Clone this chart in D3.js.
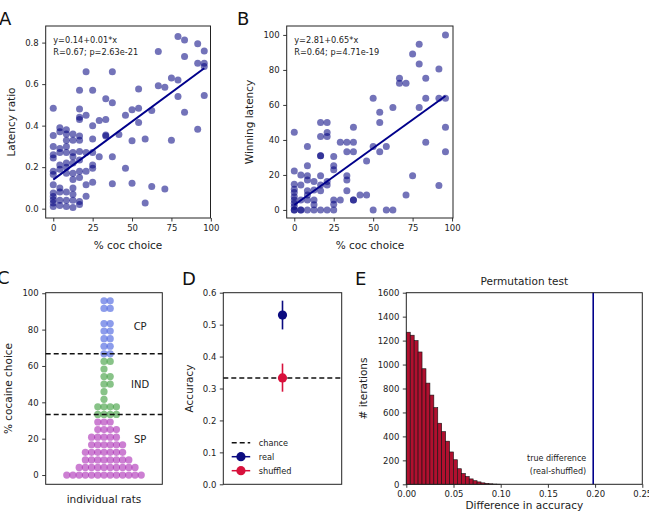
<!DOCTYPE html>
<html>
<head>
<meta charset="utf-8">
<script src="https://cdn.jsdelivr.net/npm/d3@7"></script>
<style>
  body { margin: 0; background: #fff; }
  svg { font-family: "DejaVu Sans", sans-serif; }
</style>
</head>
<body>
<div id="canvas"></div>
<script>
// ---- data ----
// A: % coc choice vs latency ratio
var ratioPoints = [
  [0,0.484],[0,0.353],[0,0.30],[0,0.26],[0,0.244],[0,0.18],[0,0.164],[0,0.115],[0,0.075],[0,0.059],[0,0.043],[0,0.027],[0,0.011],
  [4.17,0.39],[4.17,0.37],[4.17,0.29],[4.17,0.27],[4.17,0.21],[4.17,0.19],[4.17,0.10],[4.17,0.08],[4.17,0.04],[4.17,0.015],
  [8.33,0.38],[8.33,0.36],[8.33,0.33],[8.33,0.30],[8.33,0.27],[8.33,0.22],[8.33,0.20],[8.33,0.17],[8.33,0.08],[8.33,0.04],[8.33,0.01],
  [12.5,0.36],[12.5,0.33],[12.5,0.27],[12.5,0.25],[12.5,0.22],[12.5,0.17],[12.5,0.14],[12.5,0.10],[12.5,0.07],[12.5,0.04],[12.5,0.005],
  [16.67,0.57],[16.67,0.48],[16.67,0.44],[16.67,0.43],[16.67,0.35],[16.67,0.33],[16.67,0.275],[16.67,0.235],[16.67,0.18],[16.67,0.15],[16.67,0.035],[16.67,0.02],
  [20.83,0.66],[20.83,0.45],[20.83,0.27],[20.83,0.18],[20.83,0.115],[20.83,0.06],
  [25,0.57],[25,0.40],[25,0.335],[25,0.27],[25,0.21],[25,0.195],[25,0.127],
  [29.17,0.425],[29.17,0.25],
  [33.33,0.53],[33.33,0.43],[33.33,0.355],[33.33,0.35],
  [37.5,0.66],[37.5,0.51],[37.5,0.25],[37.5,0.12],
  [41.67,0.357],[45.83,0.45],[45.83,0.195],
  [50,0.476],[50,0.327],[50,0.123],
  [54.17,0.576],[54.17,0.484],[54.17,0.415],
  [58.33,0.335],[58.33,0.027],[62.5,0.473],[62.5,0.107],
  [66.67,0.757],[66.67,0.592],[70.83,0.585],[70.83,0.095],
  [75,0.63],[75,0.329],[79.17,0.829],[79.17,0.62],[79.17,0.54],
  [83.33,0.813],[83.33,0.733],[83.33,0.465],
  [91.67,0.794],[91.67,0.70],[91.67,0.383],
  [95.83,0.76],[95.83,0.70],[95.83,0.685],[95.83,0.545]
];
var ratioFit = [0.14, 0.0056];
var ratioText = ["y=0.14+0.01*x", "R=0.67; p=2.63e-21"];

// B: % coc choice vs winning latency
var winPoints = [
  [0,44.4],[0,22.3],[0,14.7],[0,11.8],[0,9.9],[0,7.6],[0,5.7],[0,3.8],[0,1.9],[0,0],[0,0],
  [4.17,20],[4.17,14.3],[4.17,5.7],[4.17,0],[4.17,0],
  [8.33,36.2],[8.33,25.3],[8.33,19.6],[8.33,17.1],[8.33,11],[8.33,8.6],[8.33,5.7],[8.33,0],
  [12.5,16.2],[12.5,11.4],[12.5,5.7],[12.5,2.9],[12.5,0],
  [16.67,50],[16.67,41.9],[16.67,30.9],[16.67,30.9],[16.67,19.6],[16.67,14.3],[16.67,11],[16.67,0],
  [20.83,50],[20.83,44.2],[20.83,41.9],[20.83,16.2],[20.83,14.3],[20.83,0],
  [25,30.5],[25,25.3],[25,22.9],[25,5.7],[25,3.2],[25,0],
  [29.17,38.7],[29.17,5.7],
  [33.33,38.7],[33.33,33.3],[33.33,19.6],[33.33,17.1],[33.33,11],
  [37.5,47.2],[37.5,38.7],[37.5,33.3],[37.5,5.7],[37.5,5.7],
  [41.67,8.6],[45.83,28],[45.83,8.6],
  [50,63.8],[50,36.2],[50,0],
  [54.17,55.8],[54.17,50],[54.17,33.3],
  [58.33,36.2],[58.33,0],[62.5,58.5],[62.5,0],
  [66.67,75.2],[66.67,72.4],[70.83,72.4],[70.83,8.6],
  [75,89.1],[75,19.6],[79.17,94.7],[79.17,83.4],[79.17,58.5],
  [83.33,75.2],[83.33,63.8],[83.33,38.7],
  [91.67,80.6],[91.67,63.8],[91.67,13.9],
  [95.83,100],[95.83,63.8],[95.83,47.2],[95.83,33.3]
];
var winFit = [2.81, 0.65];
var winText = ["y=2.81+0.65*x", "R=0.64; p=4.71e-19"];

// C: % cocaine choice per rat
var choiceSP = [0,0,0,0,0,0,0,0,0,0,0,0,0,
  4.17,4.17,4.17,4.17,4.17,4.17,4.17,4.17,4.17,4.17,
  8.33,8.33,8.33,8.33,8.33,8.33,8.33,8.33,
  12.5,12.5,12.5,12.5,12.5,12.5,12.5,
  16.67,16.67,16.67,16.67,16.67,16.67,
  20.83,20.83,20.83,20.83,20.83,
  25,25,25,25, 29.17,29.17,29.17];
var choiceIND = [33.33,33.33,33.33,33.33, 37.5,37.5,37.5,37.5, 41.67, 45.83, 50,50, 54.17,54.17, 58.33, 62.5,62.5];
var choiceCP = [66.67,66.67, 70.83,70.83, 75,75, 79.17,79.17, 83.33,83.33, 91.67,91.67, 95.83,95.83];
var groupCuts = [33.33, 66.67];
var groupLabels = [["CP", 82], ["IND", 50], ["SP", 20]];

// D: decoding accuracy
var accuracyNames = ["real", "shuffled"];
var accuracyMean = [0.53, 0.333];
var accuracyLow = [0.485, 0.29];
var accuracyHigh = [0.575, 0.378];
var chanceLevel = 0.333;

// E: permutation test histogram
var permCounts = [1270,1245,1200,1105,965,845,745,640,510,440,360,270,205,130,90,65,45,30,20,12,8,4,2,1];
var permBinWidth = 1 / 240;
var trueDifference = 0.198;

// ---- drawing ----
var svg = d3.select("#canvas").append("svg").attr("width", 649).attr("height", 519);

var INK = "#222";
var TICK_FONT = 8.5;
var LABEL_FONT = 10.5;

function styleAxis(g) {
  g.attr("font-family", "DejaVu Sans").attr("font-size", TICK_FONT);
  g.select(".domain").remove();
  g.selectAll(".tick line").attr("stroke", INK).attr("stroke-width", 0.9);
  g.selectAll(".tick text").attr("fill", INK);
}

function addFrame(x, y) {
  var xr = x.range(), yr = y.range();
  svg.append("rect")
    .attr("x", xr[0]).attr("y", yr[1])
    .attr("width", xr[1] - xr[0]).attr("height", yr[0] - yr[1])
    .attr("fill", "none").attr("stroke", INK).attr("stroke-width", 1);
}

function addYLabel(text, x, cy) {
  svg.append("text")
    .attr("transform", "translate(" + x + "," + cy + ") rotate(-90)")
    .attr("text-anchor", "middle").attr("font-size", LABEL_FONT).attr("fill", INK)
    .text(text);
}

function addXLabel(text, cx, y) {
  svg.append("text").attr("x", cx).attr("y", y)
    .attr("text-anchor", "middle").attr("font-size", LABEL_FONT).attr("fill", INK)
    .text(text);
}

function addLetter(letter, x, y) {
  svg.append("text").attr("x", x).attr("y", y).attr("font-size", 18).attr("fill", "#111").text(letter);
}

function xAxisAt(x, y, ticks, fmt) {
  var g = svg.append("g").attr("transform", "translate(0," + y.range()[0] + ")")
    .call(d3.axisBottom(x).tickValues(ticks).tickFormat(fmt).tickSize(3.5).tickPadding(3.5));
  styleAxis(g);
}

function yAxisAt(x, y, ticks, fmt) {
  var g = svg.append("g").attr("transform", "translate(" + x.range()[0] + ",0)")
    .call(d3.axisLeft(y).tickValues(ticks).tickFormat(fmt).tickSize(3.5).tickPadding(3.5));
  styleAxis(g);
}

// scatter panel with regression line
function drawScatter(points, fit, lines, x, y, yTicks, yFmt) {
  addFrame(x, y);
  svg.append("g").selectAll("circle")
    .data(points).enter().append("circle")
    .attr("cx", d => x(d[0])).attr("cy", d => y(d[1])).attr("r", 3.5)
    .attr("fill", "navy").attr("fill-opacity", 0.55);
  var xs = d3.extent(points, d => d[0]);
  svg.append("line")
    .attr("x1", x(xs[0])).attr("y1", y(fit[0] + fit[1] * xs[0]))
    .attr("x2", x(xs[1])).attr("y2", y(fit[0] + fit[1] * xs[1]))
    .attr("stroke", "#00008b").attr("stroke-width", 2);
  xAxisAt(x, y, [0, 25, 50, 75, 100], d3.format("d"));
  yAxisAt(x, y, yTicks, yFmt);
  svg.append("g").selectAll("text").data(lines).enter().append("text")
    .attr("x", x(0)).attr("y", (d, i) => y.range()[1] + 17 + i * 12)
    .attr("font-size", 8.2).attr("fill", INK).text(d => d);
}

// Panel A
var xA = d3.scaleLinear().domain([-4.8, 99.8]).range([45.7, 210.5]);
var yA = d3.scaleLinear().domain([-0.045, 0.88]).range([218, 26]);
drawScatter(ratioPoints, ratioFit, ratioText, xA, yA, [0, 0.2, 0.4, 0.6, 0.8], d3.format(".1f"));
addYLabel("Latency ratio", 14.5, 122);
addXLabel("% coc choice", 128, 248.5);
addLetter("A", -1, 25);

// Panel B
var xB = d3.scaleLinear().domain([-4.8, 100.6]).range([286.7, 453]);
var yB = d3.scaleLinear().domain([-4.6, 105.1]).range([218, 26]);
drawScatter(winPoints, winFit, winText, xB, yB, [0, 20, 40, 60, 80, 100], d3.format("d"));
addYLabel("Winning latency", 253, 122);
addXLabel("% coc choice", 370, 248.5);
addLetter("B", 237, 25);

// Panel C: beeswarm of individual rats
var xC = d3.scaleLinear().domain([-1, 1]).range([45.7, 162.3]);
var yC = d3.scaleLinear().domain([-5.1, 100.3]).range([484.3, 292.7]);
addFrame(xC, yC);

function swarm(values, spacing) {
  var placed = [];
  values.slice().sort((a, b) => a - b).forEach(v => {
    var py = yC(v);
    var cands = [0];
    placed.forEach(q => {
      var dy = Math.abs(q.y - py);
      if (dy < spacing) {
        var dx = Math.sqrt(spacing * spacing - dy * dy) + 0.01;
        cands.push(q.dx + dx, q.dx - dx);
      }
    });
    cands.sort((a, b) => Math.abs(a) - Math.abs(b));
    var dx = cands.find(c => placed.every(q => (q.dx - c) * (q.dx - c) + (q.y - py) * (q.y - py) >= spacing * spacing - 0.001));
    placed.push({ v: v, y: py, dx: dx });
  });
  return placed;
}

var groups = [
  { values: choiceSP, color: "#9a00a6" },
  { values: choiceIND, color: "#118811" },
  { values: choiceCP, color: "#1a3ad8" }
];
var allChoice = choiceSP.concat(choiceIND, choiceCP);
var swarmPts = swarm(allChoice, 6.2);
function groupColor(v) {
  if (v >= groupCuts[1]) return groups[2].color;
  if (v >= groupCuts[0]) return groups[1].color;
  return groups[0].color;
}
svg.append("g").selectAll("circle").data(swarmPts).enter().append("circle")
  .attr("cx", d => xC(0) + d.dx).attr("cy", d => d.y).attr("r", 3.6)
  .attr("fill", d => groupColor(d.v)).attr("fill-opacity", 0.5);

svg.append("g").selectAll("line").data(groupCuts).enter().append("line")
  .attr("x1", xC.range()[0]).attr("x2", xC.range()[1])
  .attr("y1", d => yC(d)).attr("y2", d => yC(d))
  .attr("stroke", "#111").attr("stroke-width", 1.5).attr("stroke-dasharray", "5,3");

svg.append("g").selectAll("text").data(groupLabels).enter().append("text")
  .attr("x", xC(0.62)).attr("y", d => yC(d[1]) + 4)
  .attr("text-anchor", "middle").attr("font-size", 10).attr("fill", INK)
  .text(d => d[0]);

yAxisAt(xC, yC, [0, 20, 40, 60, 80, 100], d3.format("d"));
addYLabel("% cocaine choice", 12, 388.5);
addXLabel("individual rats", 104, 503);
addLetter("C", -3, 284);

// Panel D: accuracy
var xD = d3.scaleLinear().domain([-1, 1]).range([223.3, 341.7]);
var yD = d3.scaleLinear().domain([0, 0.6]).range([484.3, 292.7]);
addFrame(xD, yD);
var accColors = ["#0b0b80", "#d8113c"];
svg.append("line")
  .attr("x1", xD.range()[0]).attr("x2", xD.range()[1])
  .attr("y1", yD(chanceLevel)).attr("y2", yD(chanceLevel))
  .attr("stroke", "#111").attr("stroke-width", 1.5).attr("stroke-dasharray", "5,3");
var accG = svg.append("g").selectAll("g").data(accuracyNames).enter().append("g");
accG.append("line")
  .attr("x1", xD(0)).attr("x2", xD(0))
  .attr("y1", (d, i) => yD(accuracyLow[i])).attr("y2", (d, i) => yD(accuracyHigh[i]))
  .attr("stroke", (d, i) => accColors[i]).attr("stroke-width", 1.6);
accG.append("circle")
  .attr("cx", xD(0)).attr("cy", (d, i) => yD(accuracyMean[i])).attr("r", 4.6)
  .attr("fill", (d, i) => accColors[i]);
yAxisAt(xD, yD, [0, 0.1, 0.2, 0.3, 0.4, 0.5, 0.6], d3.format(".1f"));
addYLabel("Accuracy", 192.7, 388.5);
addLetter("D", 182, 285);

// legend
var legend = svg.append("g").attr("transform", "translate(231.7,442.7)");
var legendItems = ["chance"].concat(accuracyNames);
legendItems.forEach((name, i) => {
  var row = legend.append("g").attr("transform", "translate(0," + i * 14 + ")");
  var line = row.append("line").attr("x1", 0).attr("x2", 18.5).attr("y1", 0).attr("y2", 0)
    .attr("stroke-width", 1.5);
  if (i === 0) {
    line.attr("stroke", "#111").attr("stroke-dasharray", "5,3");
  } else {
    line.attr("stroke", accColors[i - 1]);
    row.append("circle").attr("cx", 9.25).attr("cy", 0).attr("r", 4.6).attr("fill", accColors[i - 1]);
  }
  row.append("text").attr("x", 27).attr("y", 3).attr("font-size", 8.2).attr("fill", INK).text(name);
});

// Panel E: permutation histogram
var xE = d3.scaleLinear().domain([0, 0.25]).range([406.3, 642.3]);
var yE = d3.scaleLinear().domain([0, 1600]).range([484.3, 292.7]);
svg.append("g").selectAll("rect").data(permCounts).enter().append("rect")
  .attr("x", (d, i) => xE(i * permBinWidth))
  .attr("width", xE(permBinWidth) - xE(0))
  .attr("y", d => yE(d)).attr("height", d => yE(0) - yE(d))
  .attr("fill", "#b0102f").attr("stroke", "#111").attr("stroke-width", 0.6);
svg.append("line")
  .attr("x1", xE(trueDifference)).attr("x2", xE(trueDifference))
  .attr("y1", yE(0)).attr("y2", yE(1600))
  .attr("stroke", "#00008b").attr("stroke-width", 1.6);
addFrame(xE, yE);
xAxisAt(xE, yE, [0, 0.05, 0.1, 0.15, 0.2, 0.25], d3.format(".2f"));
yAxisAt(xE, yE, d3.range(0, 1601, 200), d3.format("d"));
svg.append("text").attr("x", xE(trueDifference) - 7).attr("y", 460.5)
  .attr("text-anchor", "end").attr("font-size", 8).attr("fill", INK).text("true difference");
svg.append("text").attr("x", xE(trueDifference) - 7).attr("y", 473.5)
  .attr("text-anchor", "end").attr("font-size", 8).attr("fill", INK).text("(real-shuffled)");
svg.append("text").attr("x", 524.3).attr("y", 285)
  .attr("text-anchor", "middle").attr("font-size", LABEL_FONT).attr("fill", INK).text("Permutation test");
addYLabel("# iterations", 367, 388.5);
addXLabel("Difference in accuracy", 524.3, 508.5);
addLetter("E", 355, 285);
</script>
</body>
</html>
